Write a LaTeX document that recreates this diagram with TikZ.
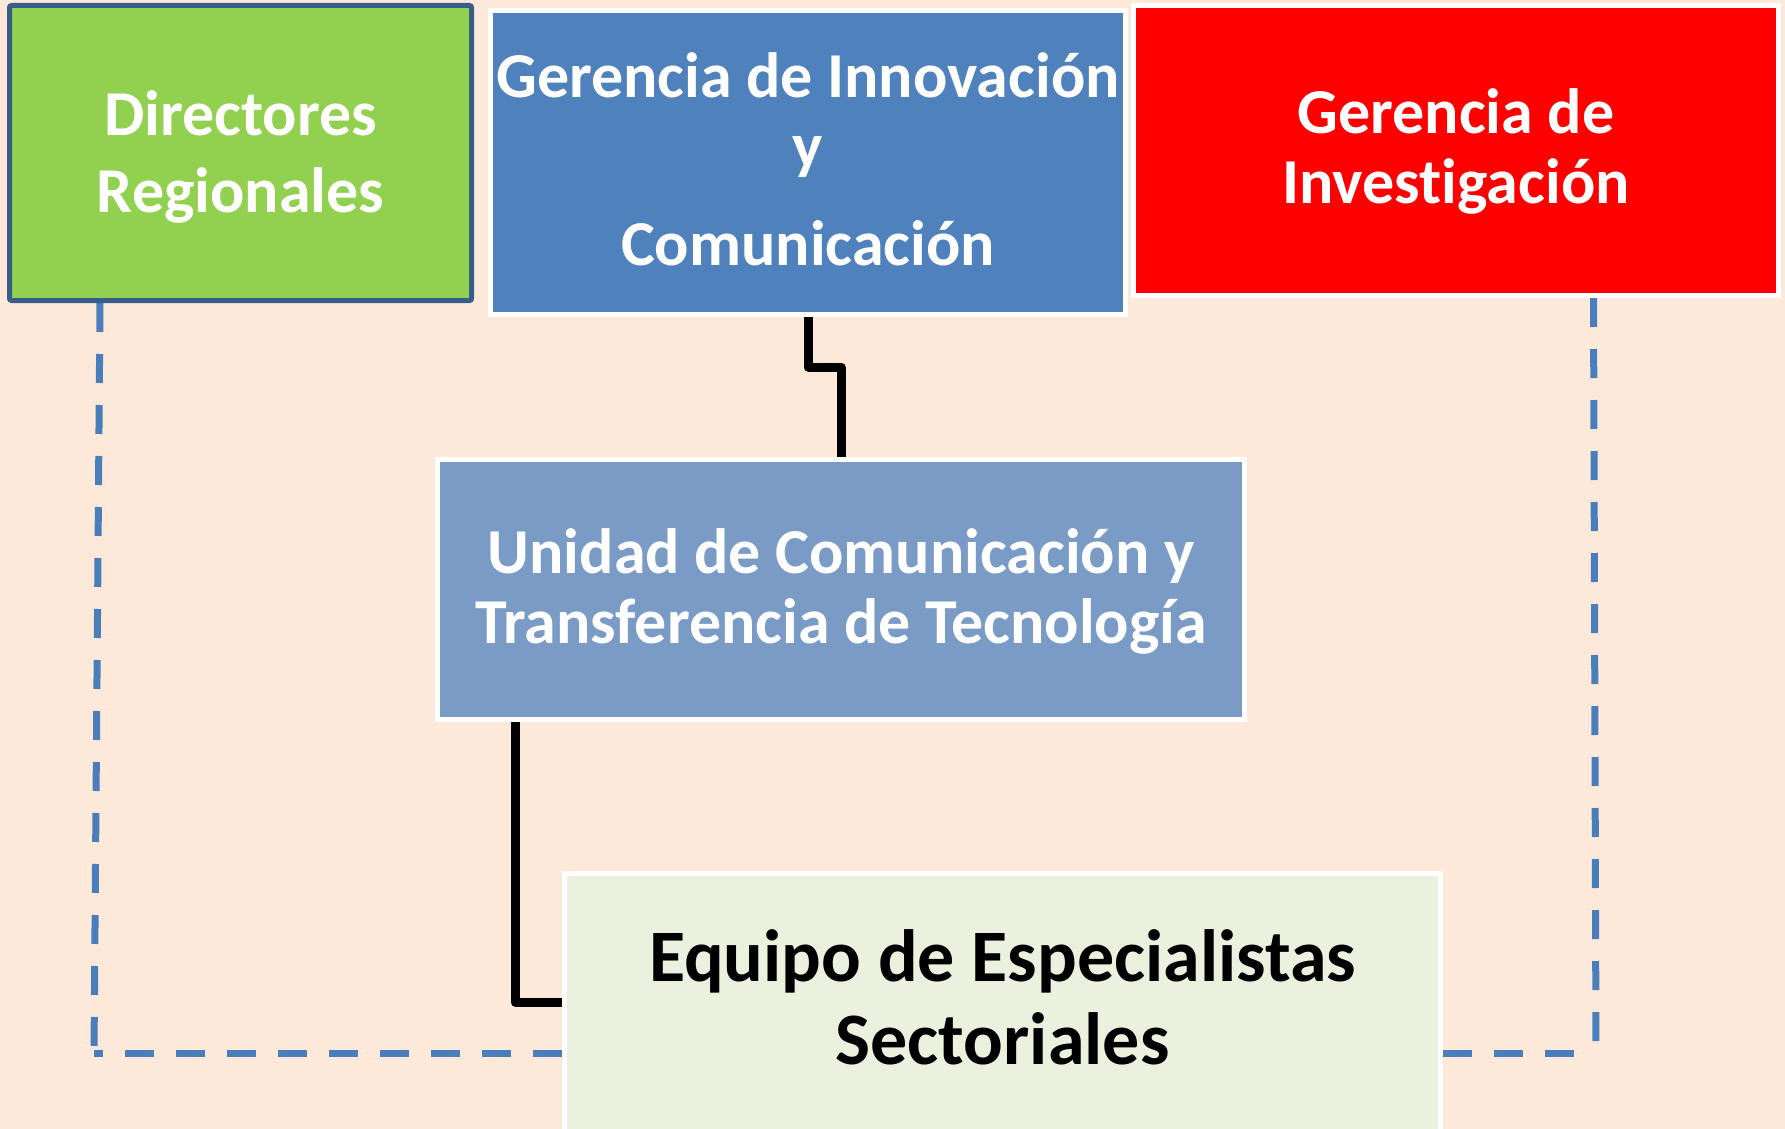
\documentclass[tikz,border=0pt]{standalone}
\usepackage{fontspec}
\setmainfont{Carlito}[Ligatures=NoCommon]
\definecolor{bgc}{HTML}{FDE9D9}
\definecolor{greenc}{HTML}{92D050}
\definecolor{greenb}{HTML}{385D8A}
\definecolor{bluec}{HTML}{4F81BD}
\definecolor{redc}{HTML}{FF0000}
\definecolor{midc}{HTML}{7A9BC6}
\definecolor{espc}{HTML}{EBF1DE}
\definecolor{dashc}{HTML}{4A7EBB}
\pgfdeclarelayer{bg}
\pgfsetlayers{bg,main}
\begin{document}
\begin{tikzpicture}[x=1pt,y=-1pt,
  box/.style={rectangle, draw=white, line width=5pt, inner sep=0pt, align=center},
  blk/.style={draw=black, line width=9pt, line join=round},
  dashln/.style={draw=dashc, line width=7pt, dash pattern=on 29pt off 22pt}]
\useasboundingbox (0,0) rectangle (1785,1129);
\begin{pgfonlayer}{bg}
\fill[bgc] (0,0) rectangle (1785,1129);
\end{pgfonlayer}

\node[box, draw=greenb, fill=greenc, rounded corners=2pt, text=white,
  font=\bfseries\fontsize{64}{77}\selectfont, text height=118pt, text depth=0pt,
  minimum width=462pt, minimum height=295pt] (dir) at (240.5,153) {Directores\\Regionales};
\node[box, fill=bluec, text=white,
  font=\bfseries\fontsize{64}{70}\selectfont, text height=205pt, text depth=0pt,
  minimum width=635pt, minimum height=304pt] (gic) at (808,162.5) {Gerencia de Innovación\\y\\[28pt]Comunicación};
\node[box, fill=redc, text=white,
  font=\bfseries\fontsize{64}{70}\selectfont, text height=105pt, text depth=0pt,
  minimum width=645pt, minimum height=290pt] (gi) at (1456,150.5) {Gerencia de\\Invest\kern0pt{}igación};
\node[box, fill=midc, text=white,
  font=\bfseries\fontsize{64}{70}\selectfont, text height=107pt, text depth=0pt,
  minimum width=807pt, minimum height=260pt] (uct) at (841,589.5) {Unidad de Comunicación y\\Transferencia de Tecnología};
\node[box, fill=espc, text=black,
  font=\bfseries\fontsize{74}{82.5}\selectfont, text height=123.5pt, text depth=0pt,
  minimum width=876pt, minimum height=257.5pt] (esp) at (1002.5,1002.25) {Equipo de Especialistas\\Sectoriales};

\coordinate (cl) at (94,1053);
\coordinate (cr) at (1596,1053);
\begin{pgfonlayer}{bg}
\draw[blk] (gic.south) -- (gic.south |- 0,367) -| (uct.north);
\draw[blk] ([xshift=80.5pt]uct.south west) |- (esp.west);
\draw[dashln] ([xshift=93pt]dir.south west) -- (cl);
\draw[dashln] (esp.west |- cl) -- (cl);
\draw[dashln] ([xshift=462.5pt]gi.south west) -- (cr);
\draw[dashln] (esp.east |- cr) -- (cr);
\end{pgfonlayer}
\end{tikzpicture}
\end{document}
